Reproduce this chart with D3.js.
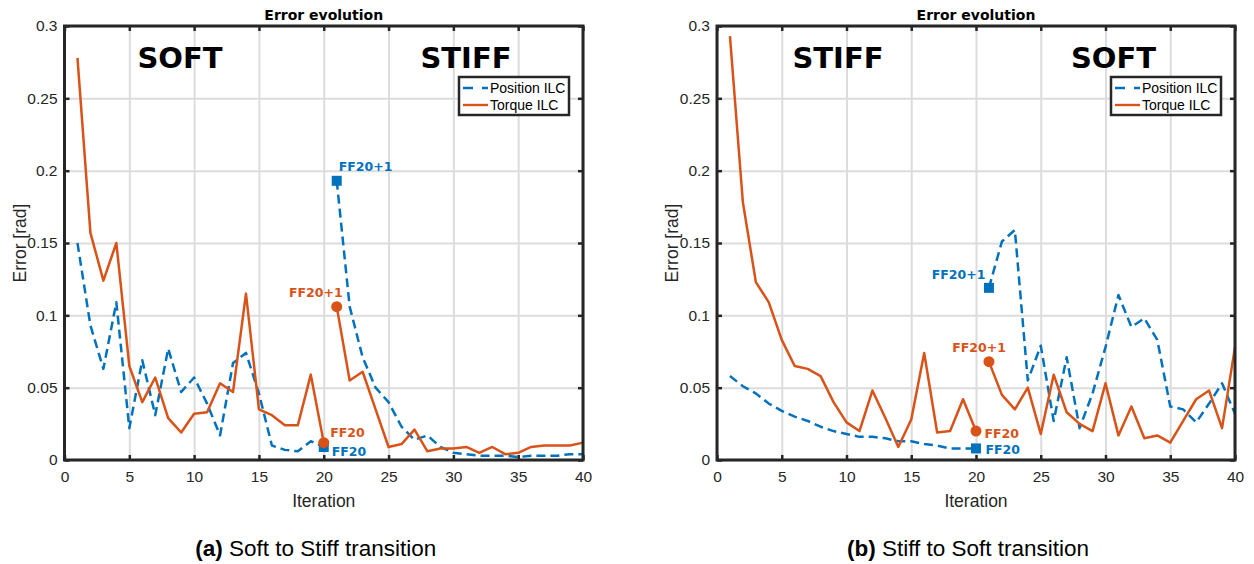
<!DOCTYPE html>
<html>
<head>
<meta charset="utf-8">
<script src="https://cdn.jsdelivr.net/npm/d3@7"></script>
<style>
  body { margin: 0; background: #fff; }
  svg { display: block; }
  .tick text { font-family: "Liberation Sans", Arial, sans-serif; fill: #262626; }
</style>
</head>
<body>
<svg id="fig" width="1254" height="564"></svg>
<script>
// ---------- data ----------
var iterations = [1,2,3,4,5,6,7,8,9,10,11,12,13,14,15,16,17,18,19,20,
                  21,22,23,24,25,26,27,28,29,30,31,32,33,34,35,36,37,38,39,40];
var xTicks = [0,5,10,15,20,25,30,35,40];
var yTicks = [0,0.05,0.1,0.15,0.2,0.25,0.3];
var seriesNames = ["Position ILC", "Torque ILC"];

// (a) soft to stiff
var posSoftStiff = [0.150,0.093,0.063,0.109,0.022,0.069,0.031,0.077,0.047,0.057,
                    0.039,0.017,0.067,0.074,0.046,0.010,0.007,0.006,0.013,0.009,
                    0.193,0.106,0.071,0.050,0.040,0.023,0.014,0.017,0.009,0.005,
                    0.004,0.003,0.003,0.003,0.002,0.003,0.003,0.003,0.004,0.004];
var torSoftStiff = [0.278,0.157,0.124,0.150,0.065,0.040,0.057,0.029,0.019,0.032,
                    0.033,0.053,0.047,0.115,0.035,0.031,0.024,0.024,0.059,0.012,
                    0.106,0.055,0.061,0.035,0.009,0.011,0.021,0.006,0.008,0.008,
                    0.009,0.005,0.009,0.004,0.005,0.009,0.010,0.010,0.010,0.012];
// (b) stiff to soft
var posStiffSoft = [0.058,0.051,0.046,0.039,0.034,0.030,0.027,0.023,0.020,0.018,
                    0.016,0.016,0.015,0.013,0.013,0.011,0.010,0.008,0.008,0.008,
                    0.119,0.151,0.159,0.055,0.079,0.027,0.071,0.022,0.046,0.078,
                    0.114,0.092,0.098,0.083,0.037,0.035,0.026,0.039,0.053,0.032];
var torStiffSoft = [0.293,0.178,0.123,0.109,0.083,0.065,0.063,0.058,0.040,0.026,
                    0.020,0.048,0.029,0.009,0.028,0.074,0.019,0.020,0.042,0.020,
                    0.068,0.045,0.035,0.050,0.018,0.059,0.033,0.025,0.020,0.053,
                    0.017,0.037,0.015,0.017,0.012,0.027,0.042,0.048,0.022,0.078];

var blue = "#0072BD", orange = "#D95319", axisCol = "#262626";
var svg = d3.select("#fig");

var drawPanel = function (cfg)
{
	var x = d3.scaleLinear().domain([0,40]).range([cfg.left, cfg.right]);
	var y = d3.scaleLinear().domain([0,0.3]).range([cfg.bottom, cfg.top]);
	var g = svg.append("g");
	var h = cfg.bottom - cfg.top, w = cfg.right - cfg.left;

	// grid
	g.append("g")
	.attr("transform", "translate(0," + cfg.bottom + ")")
	.call(d3.axisBottom(x).tickValues(xTicks).tickSize(-h).tickFormat(""))
	.call(function (s) { s.select(".domain").remove(); s.selectAll("line").attr("stroke", "#dcdcdc").attr("stroke-width", 2); });
	g.append("g")
	.attr("transform", "translate(" + cfg.left + ",0)")
	.call(d3.axisLeft(y).tickValues(yTicks).tickSize(-w).tickFormat(""))
	.call(function (s) { s.select(".domain").remove(); s.selectAll("line").attr("stroke", "#dcdcdc").attr("stroke-width", 2); });

	// region labels
	cfg.regions.forEach(function (r)
	{
		g.append("text").text(r.text)
		.attr("x", r.x).attr("y", 68)
		.attr("text-anchor", "middle")
		.style("font-family", "DejaVu Sans").style("font-weight", "bold").style("font-size", "29px")
		.attr("fill", "#000");
	});

	// lines, split at the FF20 / FF20+1 switch
	var line = d3.line().x(function (d) { return x(d[0]); }).y(function (d) { return y(d[1]); });
	var pts = function (vals, a, b)
	{
		return iterations.slice(a, b).map(function (it, i) { return [it, vals[a + i]]; });
	};
	[[cfg.pos, blue, "9,5"], [cfg.tor, orange, null]].forEach(function (s)
	{
		[[0,20],[20,40]].forEach(function (seg)
		{
			g.append("path")
			.attr("d", line(pts(s[0], seg[0], seg[1])))
			.attr("fill", "none").attr("stroke", s[1]).attr("stroke-width", 2.5)
			.attr("stroke-dasharray", s[2]).attr("stroke-linejoin", "round");
		});
	});

	// markers
	[19, 20].forEach(function (i)
	{
		g.append("rect")
		.attr("x", x(iterations[i]) - 5).attr("y", y(cfg.pos[i]) - 5)
		.attr("width", 10).attr("height", 10).attr("fill", blue);
		g.append("circle")
		.attr("cx", x(iterations[i])).attr("cy", y(cfg.tor[i])).attr("r", 5.5)
		.attr("fill", orange);
	});

	// annotations
	cfg.notes.forEach(function (n)
	{
		var vals = n.series == 0 ? cfg.pos : cfg.tor;
		g.append("text").text(n.text)
		.attr("x", x(iterations[n.i]) + n.dx).attr("y", y(vals[n.i]) + n.dy)
		.attr("text-anchor", n.anchor)
		.style("font-family", "DejaVu Sans").style("font-weight", "bold").style("font-size", "12.5px")
		.attr("fill", n.series == 0 ? blue : orange);
	});

	// axes with inward ticks, box on
	var styleAxis = function (s, fs)
	{
		s.select(".domain").remove();
		s.selectAll("line").attr("stroke", axisCol).attr("stroke-width", 2.5);
		s.selectAll("text").style("font-size", fs);
	};
	var fmt = function (d) { return String(+d.toFixed(2)); };
	g.append("g").attr("transform", "translate(0," + cfg.bottom + ")")
	.call(d3.axisBottom(x).tickValues(xTicks).tickSize(-5).tickPadding(11).tickFormat(fmt))
	.call(function (s) { styleAxis(s, "15.5px"); });
	g.append("g").attr("transform", "translate(0," + cfg.top + ")")
	.call(d3.axisTop(x).tickValues(xTicks).tickSize(-5).tickFormat(""))
	.call(function (s) { styleAxis(s, "15.5px"); });
	g.append("g").attr("transform", "translate(" + cfg.left + ",0)")
	.call(d3.axisLeft(y).tickValues(yTicks).tickSize(-5).tickPadding(7).tickFormat(fmt))
	.call(function (s) { styleAxis(s, "15.5px"); });
	g.append("g").attr("transform", "translate(" + cfg.right + ",0)")
	.call(d3.axisRight(y).tickValues(yTicks).tickSize(-5).tickFormat(""))
	.call(function (s) { styleAxis(s, "15.5px"); });
	g.append("rect")
	.attr("x", cfg.left).attr("y", cfg.top).attr("width", w).attr("height", h)
	.attr("fill", "none").attr("stroke", axisCol).attr("stroke-width", 3);

	// title and axis labels
	g.append("text").text("Error evolution")
	.attr("x", (cfg.left + cfg.right) / 2).attr("y", 20).attr("text-anchor", "middle")
	.style("font-family", "DejaVu Sans").style("font-weight", "bold").style("font-size", "14px")
	.attr("fill", "#000");
	g.append("text").text("Iteration")
	.attr("x", (cfg.left + cfg.right) / 2).attr("y", 507).attr("text-anchor", "middle")
	.style("font-family", "Liberation Sans").style("font-size", "17.5px").attr("fill", axisCol);
	g.append("text").text("Error [rad]")
	.attr("transform", "translate(" + (cfg.left - 39) + "," + ((cfg.top + cfg.bottom) / 2) + ") rotate(-90)")
	.attr("text-anchor", "middle")
	.style("font-family", "Liberation Sans").style("font-size", "17.5px").attr("fill", axisCol);

	// legend
	var lg = g.append("g").attr("transform", "translate(" + (cfg.right - 124) + "," + (cfg.top + 51) + ")");
	lg.append("rect").attr("width", 110).attr("height", 38)
	.attr("fill", "#fff").attr("stroke", axisCol).attr("stroke-width", 2.5);
	seriesNames.forEach(function (name, i)
	{
		var yy = 11 + i * 17;
		lg.append("line").attr("x1", 4).attr("x2", 29).attr("y1", yy).attr("y2", yy)
		.attr("stroke", i == 0 ? blue : orange).attr("stroke-width", 2.4)
		.attr("stroke-dasharray", i == 0 ? "10,9" : null);
		lg.append("text").text(name).attr("x", 31).attr("y", yy + 5)
		.style("font-family", "Liberation Sans").style("font-size", "14px").attr("fill", "#000");
	});

	// caption
	var cap = g.append("text")
	.attr("x", (cfg.left + cfg.right) / 2 - 8).attr("y", 556).attr("text-anchor", "middle")
	.style("font-family", "Liberation Sans").style("font-size", "22.5px").attr("fill", "#000");
	cap.append("tspan").text(cfg.tag).style("font-weight", "bold");
	cap.append("tspan").text(" " + cfg.caption);
};

drawPanel({
	left: 64.5, right: 583, top: 26, bottom: 460,
	pos: posSoftStiff, tor: torSoftStiff,
	regions: [{text: "SOFT", x: 180}, {text: "STIFF", x: 466}],
	notes: [
		{series: 0, i: 20, text: "FF20+1", dx: 2, dy: -10, anchor: "start"},
		{series: 1, i: 20, text: "FF20+1", dx: 6, dy: -10, anchor: "end"},
		{series: 1, i: 19, text: "FF20", dx: 6.5, dy: -6, anchor: "start"},
		{series: 0, i: 19, text: "FF20", dx: 8, dy: 9, anchor: "start"}
	],
	tag: "(a)", caption: "Soft to Stiff transition"
});
drawPanel({
	left: 717, right: 1235, top: 26, bottom: 460,
	pos: posStiffSoft, tor: torStiffSoft,
	regions: [{text: "STIFF", x: 838}, {text: "SOFT", x: 1113.5}],
	notes: [
		{series: 0, i: 20, text: "FF20+1", dx: -3.5, dy: -9, anchor: "end"},
		{series: 1, i: 20, text: "FF20+1", dx: 17, dy: -10, anchor: "end"},
		{series: 1, i: 19, text: "FF20", dx: 8.5, dy: 7, anchor: "start"},
		{series: 0, i: 19, text: "FF20", dx: 9.5, dy: 6, anchor: "start"}
	],
	tag: "(b)", caption: "Stiff to Soft transition"
});
</script>
</body>
</html>
